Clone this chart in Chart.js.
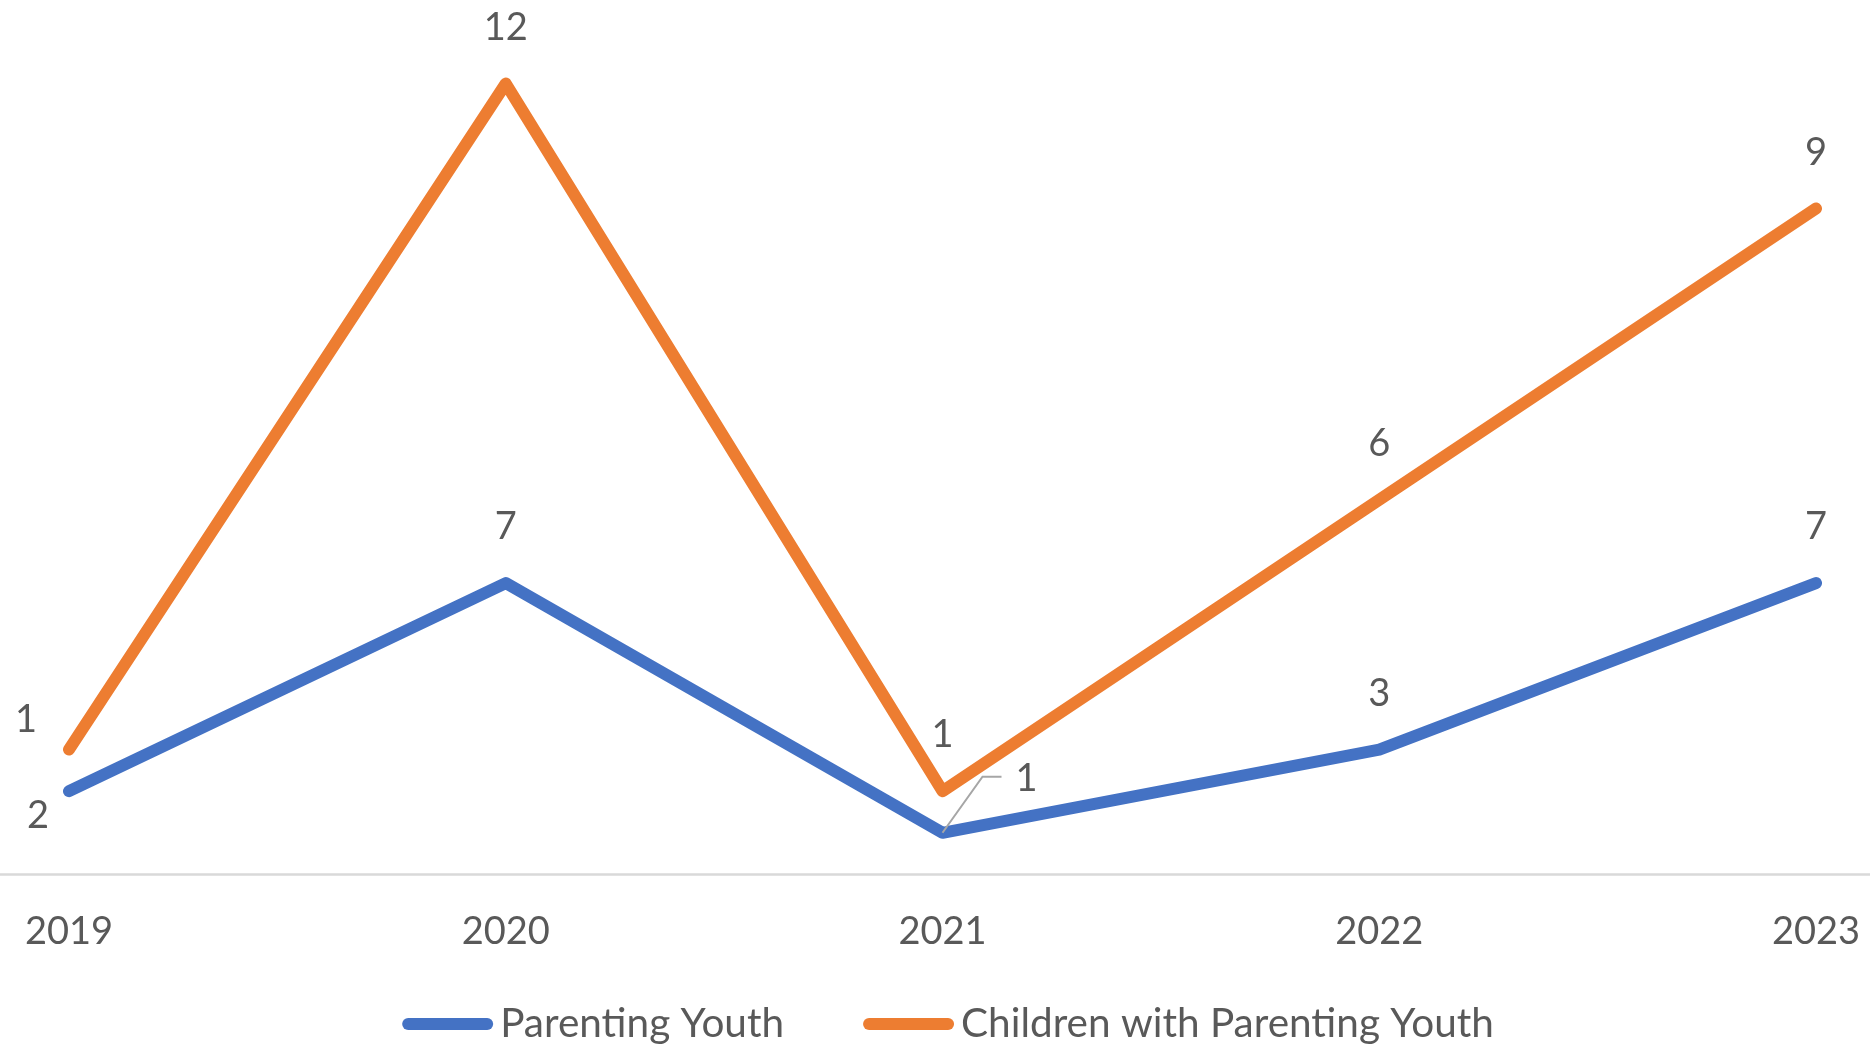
<!DOCTYPE html>
<html><head><meta charset="utf-8">
<script src="https://cdn.jsdelivr.net/npm/chart.js@4.4.1/dist/chart.umd.min.js"></script>
<style>html,body{margin:0;padding:0;background:#fff;} #wrap{width:1870px;height:1048px;position:relative;}</style>
</head><body><div id="wrap"><canvas id="c"></canvas></div>
<script>
// ---- data ----
const years = ['2019', '2020', '2021', '2022', '2023'];
const parentingYouth = [2, 7, 1, 3, 7];
const childrenWithParentingYouth = [1, 12, 1, 6, 9];
const seriesNames = ['Parenting Youth', 'Children with Parenting Youth'];

// ---- style ----
const seriesColors = ['#4472C4', '#ED7D31'];
const FONT = 'Lato, "Open Sans", sans-serif';
const FONT_SIZE = 38;
const LEGEND_FONT_SIZE = 40.5;
const TEXT = '#595959';
const LINE_W = 12;
const labelOffsets = [
  [[-31, 25], [0, -56], [84, -54], [0, -56], [0, -56]],
  [[-43, -30], [0, -56], [0, -56], [0, -56], [0, -56]]
];
const leaders = { '0-2': [[0, 0], [40, -56], [59, -56]] };

const baseLine = {
  id: 'baseLine',
  beforeDatasetsDraw(chart) {
    const ctx = chart.ctx, y = chart.scales.y.getPixelForValue(0);
    ctx.save();
    ctx.strokeStyle = '#d9d9d9';
    ctx.lineWidth = 2.5;
    ctx.beginPath(); ctx.moveTo(0, y); ctx.lineTo(chart.width, y); ctx.stroke();
    ctx.restore();
  }
};

const dataLabels = {
  id: 'dataLabels',
  afterDatasetsDraw(chart) {
    const ctx = chart.ctx;
    ctx.save();
    ctx.font = FONT_SIZE + 'px ' + FONT;
    ctx.fillStyle = TEXT;
    ctx.textAlign = 'center';
    ctx.textBaseline = 'middle';
    chart.data.datasets.forEach((ds, di) => {
      chart.getDatasetMeta(di).data.forEach((pt, i) => {
        const lead = leaders[di + '-' + i];
        if (lead) {
          ctx.strokeStyle = '#a6a6a6'; ctx.lineWidth = 2;
          ctx.beginPath();
          lead.forEach((p, k) => k ? ctx.lineTo(pt.x + p[0], pt.y + p[1]) : ctx.moveTo(pt.x + p[0], pt.y + p[1]));
          ctx.stroke();
        }
        const o = labelOffsets[di][i];
        ctx.fillText(String(ds.data[i]), pt.x + o[0], pt.y + o[1]);
      });
    });
    ctx.restore();
  }
};

const customLegend = {
  id: 'customLegend',
  afterDraw(chart) {
    const ctx = chart.ctx;
    const lineLen = 91, gapText = 7, gapItem = 79, cy = 1024, centerX = 948;
    ctx.save();
    ctx.font = LEGEND_FONT_SIZE + 'px ' + FONT;
    ctx.textBaseline = 'middle';
    ctx.textAlign = 'left';
    const items = chart.data.datasets.map(d => ({ text: d.label, color: d.borderColor, w: ctx.measureText(d.label).width }));
    let total = 0;
    items.forEach((it, k) => { total += lineLen + gapText + it.w + (k ? gapItem : 0); });
    let x = centerX - total / 2;
    items.forEach((it, k) => {
      if (k) x += gapItem;
      ctx.strokeStyle = it.color; ctx.lineWidth = LINE_W; ctx.lineCap = 'round';
      ctx.beginPath(); ctx.moveTo(x + LINE_W / 2, cy); ctx.lineTo(x + lineLen - LINE_W / 2, cy); ctx.stroke();
      x += lineLen + gapText;
      ctx.fillStyle = TEXT;
      ctx.fillText(it.text, x, cy);
      x += it.w;
    });
    ctx.restore();
  }
};

new Chart(document.getElementById('c'), {
  type: 'line',
  data: {
    labels: years,
    datasets: [
      { label: seriesNames[0], data: parentingYouth, borderColor: seriesColors[0], backgroundColor: seriesColors[0] },
      { label: seriesNames[1], data: childrenWithParentingYouth, borderColor: seriesColors[1], backgroundColor: seriesColors[1] }
    ]
  },
  options: {
    responsive: true,
    maintainAspectRatio: false,
    animation: false,
    layout: { padding: { left: 69, right: 54, top: 42, bottom: 58 } },
    elements: {
      line: { borderWidth: LINE_W, tension: 0, fill: false, borderCapStyle: 'round', borderJoinStyle: 'round' },
      point: { radius: 0, hoverRadius: 0 }
    },
    plugins: { legend: { display: false }, tooltip: { enabled: false } },
    scales: {
      x: {
        offset: false,
        grid: { display: false, drawTicks: false },
        border: { display: false },
        ticks: { color: TEXT, font: { family: FONT, size: FONT_SIZE }, padding: 35, maxRotation: 0, autoSkip: false },
        afterFit(scale) { scale.paddingLeft = 0; scale.paddingRight = 0; }
      },
      y: { display: false, stacked: true, min: 0, max: 20 }
    }
  },
  plugins: [baseLine, dataLabels, customLegend]
});
</script>
</body></html>
